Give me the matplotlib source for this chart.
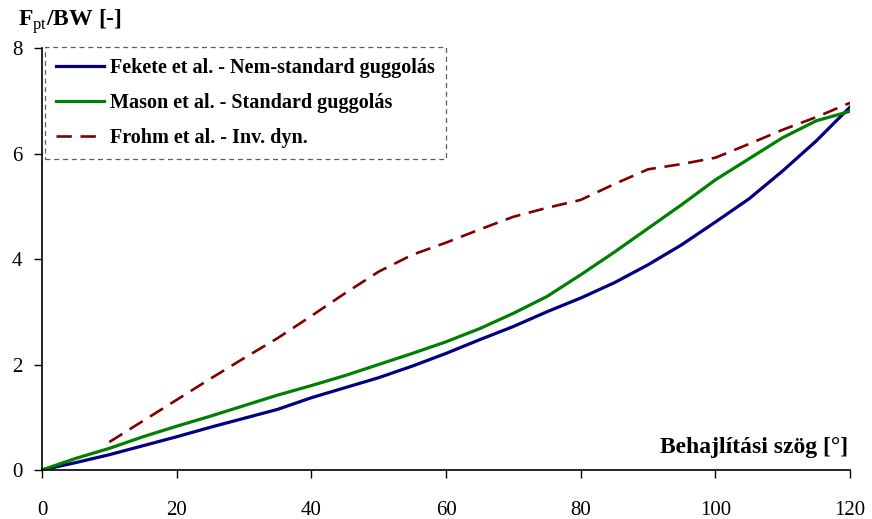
import matplotlib
matplotlib.use("Agg")
import matplotlib.pyplot as plt

# ---- data ----
angle = [0, 5, 10, 15, 20, 25, 30, 35, 40, 45, 50, 55, 60, 65, 70, 75, 80,
         85, 90, 95, 100, 105, 110, 115, 120]
fekete = [0, 0.14, 0.29, 0.46, 0.63, 0.81, 0.98, 1.15, 1.37, 1.56, 1.75, 1.97,
          2.21, 2.47, 2.72, 3.00, 3.26, 3.55, 3.89, 4.27, 4.70, 5.14, 5.67,
          6.24, 6.88]
mason = [0, 0.22, 0.41, 0.63, 0.83, 1.02, 1.22, 1.42, 1.60, 1.79, 2.00, 2.21,
         2.43, 2.68, 2.97, 3.29, 3.70, 4.13, 4.58, 5.03, 5.50, 5.90, 6.30,
         6.62, 6.80]
frohm_angle = [10, 15, 20, 25, 30, 35, 40, 45, 50, 55, 60, 65, 70, 75, 80, 85,
               90, 95, 100, 105, 110, 115, 120]
frohm = [0.53, 0.93, 1.33, 1.73, 2.12, 2.50, 2.92, 3.35, 3.76, 4.08, 4.31,
         4.56, 4.80, 4.97, 5.12, 5.42, 5.70, 5.80, 5.92, 6.18, 6.45, 6.69, 6.96]
labels = ["Fekete et al. - Nem-standard guggolás",
          "Mason et al. - Standard guggolás",
          "Frohm et al. - Inv. dyn."]
xticks = [0, 20, 40, 60, 80, 100, 120]
yticks = [0, 2, 4, 6, 8]

plt.rcParams['font.family'] = ['Liberation Serif', 'DejaVu Serif']
plt.rcParams['mathtext.fontset'] = 'custom'
plt.rcParams['mathtext.rm'] = 'Liberation Serif'
plt.rcParams['mathtext.bf'] = 'Liberation Serif:bold'

fig = plt.figure(figsize=(8.72, 5.19), dpi=100)
ax = fig.add_axes([42/872, 49/519, 808/872, 422/519])

ax.plot(angle, fekete, color='#000080', lw=2.3, label=labels[0])
ax.plot(angle, mason, color='#008000', lw=2.3, label=labels[1])
ax.plot(frohm_angle, frohm, color='#800000', lw=1.9, dashes=(5.8, 3.3),
        label=labels[2])

ax.set_xlim(0, 120)
ax.set_ylim(0, 8)
ax.set_xticks(xticks)
ax.set_yticks(yticks)
ax.spines['top'].set_visible(False)
ax.spines['right'].set_visible(False)
for s in ('left', 'bottom'):
    ax.spines[s].set_linewidth(1.2)
ax.tick_params(axis='x', direction='out', length=6, width=1, labelsize=15, pad=16)
ax.tick_params(axis='y', direction='out', length=6, width=1, labelsize=15, pad=8)

leg = ax.legend(loc='upper left', bbox_to_anchor=(0.004, 1.003), frameon=True,
                fancybox=False, prop={'weight': 'bold', 'size': 14.5},
                handlelength=2.35, handletextpad=0.3, labelspacing=0.75,
                borderpad=0.55, borderaxespad=0)
fr = leg.get_frame()
fr.set_edgecolor('#333333')
fr.set_linestyle((0, (4, 3)))
fr.set_linewidth(0.9)

fig.text(18/872, 1 - 22/519, r"F$_{\rm pt}$/BW [-]", fontsize=17, fontweight='bold',
         ha='left', va='center')
ax.text(848/872 * 872 / 808 - 42/808, (470 - 447) / 422, "Behajlítási szög [°]",
        transform=ax.transAxes, fontsize=17, fontweight='bold', ha='right', va='center')

fig.savefig("out.png", dpi=100)
